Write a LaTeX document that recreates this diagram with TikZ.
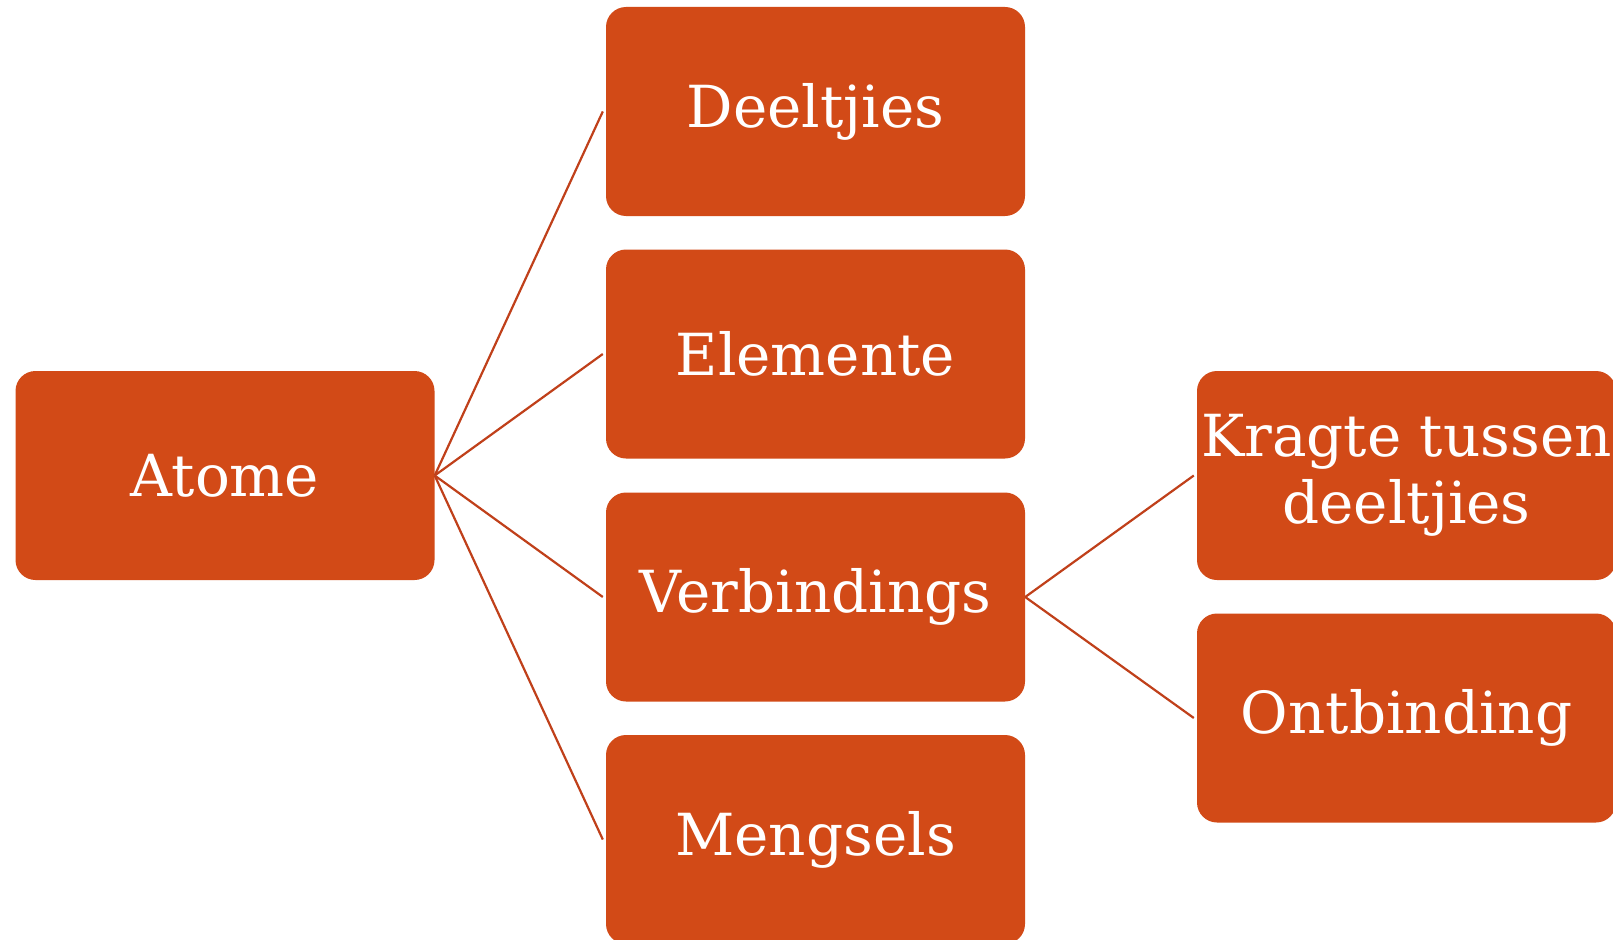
\documentclass[tikz,border=0pt]{standalone}
\usepackage{fontspec}
\setmainfont{DejaVu Serif}
\begin{document}
\begin{tikzpicture}[x=1pt,y=-1pt,
  box/.style={rectangle, rounded corners=20pt, fill=boxfill, draw=none,
    minimum width=419pt, minimum height=209pt, inner sep=2pt,
    text=white, font=\fontsize{58}{67}\selectfont, align=center},
  link/.style={draw=linkcol, line width=2.2pt}]
\definecolor{boxfill}{HTML}{D24A17}
\definecolor{linkcol}{HTML}{C0401A}
\path[use as bounding box, clip] (0,0) rectangle (1613,939);
\fill[white] (0,0) rectangle (1613,939);

% root
\node[box] (atome) at (225,475.5) {Atome};

% middle column
\node[box] (deel) at (815.5,111.5) {Deeltjies};
\node[box] (elem) at (815.5,354) {Elemente};
\node[box] (verb) at (815.5,597) {Verbindings};
\node[box] (meng) at (815.5,839.5) {Mengsels};

% right column
\node[box] (krag) at (1406.5,475.5) {Kragte tussen\\deeltjies};
\node[box] (ontb) at (1406.5,718) {Ontbinding};

% connectors
\foreach \t in {deel,elem,verb,meng}
  \draw[link] (atome.east) -- ([xshift=-3pt]\t.west);
\foreach \t in {krag,ontb}
  \draw[link] (verb.east) -- ([xshift=-3pt]\t.west);
\end{tikzpicture}
\end{document}
